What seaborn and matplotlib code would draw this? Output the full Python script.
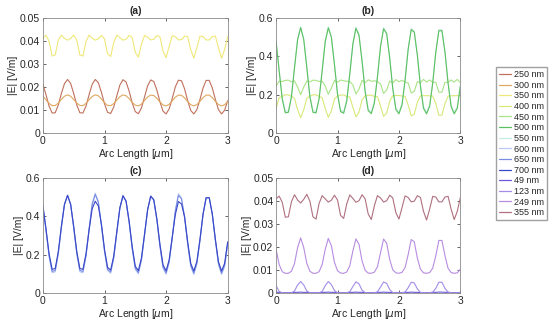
import numpy as np
import pandas as pd
import matplotlib
matplotlib.use("Agg")
import matplotlib.pyplot as plt
from matplotlib.lines import Line2D
import seaborn as sns

# arc length samples [um]
arc_um = np.linspace(0, 3, 61)

# (a) |E| values
e_250 = [0.0212, 0.0167, 0.0117, 0.0087, 0.0088, 0.0122, 0.0172, 0.0215,
         0.0233, 0.0216, 0.0172, 0.0122, 0.0088, 0.0087, 0.0117, 0.0167, 0.0212, 0.0233,
         0.0219, 0.0177, 0.0127, 0.0090, 0.0085, 0.0113, 0.0162, 0.0209, 0.0232,
         0.0222, 0.0182, 0.0131, 0.0093, 0.0084, 0.0109, 0.0157, 0.0205, 0.0231,
         0.0224, 0.0187, 0.0136, 0.0095, 0.0083, 0.0105, 0.0151, 0.0201, 0.0230,
         0.0227, 0.0192, 0.0141, 0.0098, 0.0083, 0.0102, 0.0146, 0.0196, 0.0229,
         0.0229, 0.0196, 0.0146, 0.0102, 0.0083, 0.0099, 0.0141]
e_300 = [0.0159, 0.0145, 0.0129, 0.0119, 0.0120, 0.0130, 0.0146, 0.0160,
         0.0166, 0.0160, 0.0146, 0.0130, 0.0120, 0.0119, 0.0129, 0.0145, 0.0159, 0.0166,
         0.0162, 0.0148, 0.0132, 0.0120, 0.0119, 0.0128, 0.0143, 0.0158, 0.0166,
         0.0162, 0.0150, 0.0133, 0.0121, 0.0118, 0.0126, 0.0142, 0.0157, 0.0165,
         0.0163, 0.0151, 0.0135, 0.0122, 0.0118, 0.0125, 0.0140, 0.0156, 0.0165,
         0.0164, 0.0153, 0.0137, 0.0123, 0.0118, 0.0124, 0.0138, 0.0154, 0.0165,
         0.0165, 0.0154, 0.0138, 0.0124, 0.0118, 0.0123, 0.0137]
e_350 = [0.0413, 0.0426, 0.0399, 0.0335, 0.0340, 0.0404, 0.0426, 0.0412,
         0.0404, 0.0412, 0.0426, 0.0404, 0.0340, 0.0335, 0.0399, 0.0426, 0.0413, 0.0404,
         0.0410, 0.0425, 0.0409, 0.0345, 0.0333, 0.0394, 0.0426, 0.0415, 0.0404,
         0.0409, 0.0425, 0.0415, 0.0351, 0.0330, 0.0386, 0.0425, 0.0417, 0.0405,
         0.0408, 0.0424, 0.0419, 0.0357, 0.0328, 0.0378, 0.0424, 0.0419, 0.0405,
         0.0407, 0.0422, 0.0420, 0.0363, 0.0326, 0.0371, 0.0422, 0.0420, 0.0405,
         0.0405, 0.0420, 0.0422, 0.0371, 0.0326, 0.0363, 0.0420]

# (b)
e_400 = [0.128, 0.184, 0.191, 0.200, 0.199, 0.192, 0.181, 0.121,
         0.080, 0.121, 0.181, 0.192, 0.199, 0.200, 0.191, 0.184, 0.128, 0.082,
         0.115, 0.178, 0.193, 0.198, 0.199, 0.190, 0.188, 0.134, 0.084,
         0.109, 0.174, 0.194, 0.197, 0.198, 0.191, 0.190, 0.141, 0.087,
         0.104, 0.167, 0.195, 0.196, 0.196, 0.193, 0.191, 0.147, 0.089,
         0.098, 0.161, 0.194, 0.195, 0.195, 0.194, 0.193, 0.154, 0.093,
         0.093, 0.154, 0.193, 0.194, 0.195, 0.195, 0.194]
e_450 = [0.245, 0.271, 0.269, 0.275, 0.276, 0.267, 0.272, 0.240,
         0.200, 0.240, 0.272, 0.267, 0.276, 0.275, 0.269, 0.271, 0.245, 0.202,
         0.235, 0.274, 0.265, 0.277, 0.273, 0.270, 0.269, 0.251, 0.204,
         0.229, 0.275, 0.263, 0.278, 0.270, 0.273, 0.268, 0.257, 0.207,
         0.224, 0.271, 0.262, 0.279, 0.268, 0.275, 0.266, 0.261, 0.209,
         0.218, 0.268, 0.263, 0.280, 0.266, 0.277, 0.265, 0.265, 0.213,
         0.213, 0.265, 0.265, 0.277, 0.266, 0.280, 0.263]
e_500 = [0.477, 0.324, 0.177, 0.105, 0.108, 0.189, 0.341, 0.487,
         0.550, 0.488, 0.341, 0.189, 0.108, 0.105, 0.177, 0.324, 0.477, 0.549,
         0.500, 0.357, 0.202, 0.112, 0.103, 0.166, 0.308, 0.464, 0.547,
         0.510, 0.373, 0.215, 0.117, 0.101, 0.156, 0.291, 0.450, 0.544,
         0.519, 0.390, 0.230, 0.123, 0.100, 0.146, 0.275, 0.436, 0.540,
         0.527, 0.405, 0.245, 0.129, 0.100, 0.139, 0.260, 0.421, 0.534,
         0.534, 0.421, 0.260, 0.137, 0.100, 0.129, 0.245]
e_550 = [0.482, 0.330, 0.184, 0.113, 0.116, 0.196, 0.347, 0.492,
         0.556, 0.493, 0.347, 0.196, 0.116, 0.113, 0.184, 0.330, 0.482, 0.555,
         0.505, 0.363, 0.209, 0.120, 0.111, 0.174, 0.314, 0.469, 0.553,
         0.515, 0.379, 0.222, 0.125, 0.109, 0.164, 0.297, 0.455, 0.550,
         0.524, 0.396, 0.237, 0.131, 0.108, 0.154, 0.281, 0.441, 0.546,
         0.532, 0.411, 0.252, 0.137, 0.108, 0.147, 0.266, 0.426, 0.540,
         0.540, 0.426, 0.266, 0.145, 0.108, 0.137, 0.252]

# (c)
e_600 = [0.452, 0.326, 0.190, 0.106, 0.111, 0.202, 0.340, 0.462,
         0.512, 0.462, 0.338, 0.202, 0.111, 0.106, 0.190, 0.334, 0.470, 0.522,
         0.478, 0.352, 0.214, 0.117, 0.103, 0.179, 0.313, 0.444, 0.510,
         0.480, 0.366, 0.227, 0.123, 0.100, 0.168, 0.299, 0.434, 0.507,
         0.487, 0.379, 0.240, 0.130, 0.098, 0.158, 0.285, 0.432, 0.520,
         0.496, 0.392, 0.253, 0.138, 0.097, 0.150, 0.272, 0.411, 0.499,
         0.499, 0.411, 0.272, 0.148, 0.097, 0.138, 0.253]
e_650 = [0.455, 0.332, 0.198, 0.113, 0.118, 0.210, 0.345, 0.463,
         0.510, 0.464, 0.345, 0.210, 0.118, 0.113, 0.198, 0.334, 0.462, 0.515,
         0.475, 0.358, 0.222, 0.124, 0.110, 0.187, 0.318, 0.445, 0.508,
         0.480, 0.372, 0.235, 0.130, 0.107, 0.176, 0.304, 0.435, 0.506,
         0.487, 0.385, 0.248, 0.137, 0.105, 0.166, 0.290, 0.428, 0.510,
         0.493, 0.398, 0.261, 0.145, 0.104, 0.158, 0.277, 0.412, 0.498,
         0.498, 0.412, 0.277, 0.155, 0.104, 0.145, 0.261]
e_700 = [0.456, 0.336, 0.206, 0.124, 0.128, 0.217, 0.348, 0.463,
         0.510, 0.464, 0.348, 0.217, 0.128, 0.124, 0.205, 0.330, 0.440, 0.480,
         0.455, 0.358, 0.229, 0.134, 0.120, 0.194, 0.322, 0.446, 0.508,
         0.480, 0.375, 0.242, 0.140, 0.117, 0.184, 0.308, 0.436, 0.506,
         0.487, 0.388, 0.255, 0.147, 0.116, 0.174, 0.294, 0.410, 0.478,
         0.465, 0.398, 0.268, 0.155, 0.115, 0.166, 0.281, 0.413, 0.498,
         0.498, 0.413, 0.281, 0.164, 0.115, 0.155, 0.268]

# (d)
e_49 = [0.0003, 0.0003, 0.0002, 0.0002, 0.0002, 0.0002, 0.0003, 0.0003,
        0.0004, 0.0003, 0.0003, 0.0002, 0.0002, 0.0002, 0.0002, 0.0003, 0.0003, 0.0004,
        0.0003, 0.0003, 0.0002, 0.0002, 0.0002, 0.0002, 0.0003, 0.0003, 0.0004,
        0.0003, 0.0003, 0.0002, 0.0002, 0.0002, 0.0002, 0.0003, 0.0003, 0.0004,
        0.0003, 0.0003, 0.0002, 0.0002, 0.0002, 0.0002, 0.0003, 0.0003, 0.0004,
        0.0003, 0.0003, 0.0002, 0.0002, 0.0002, 0.0002, 0.0003, 0.0003, 0.0004,
        0.0004, 0.0003, 0.0003, 0.0002, 0.0002, 0.0002, 0.0002]
e_123 = [0.0032, 0.0007, 0.0001, 0.0001, 0.0001, 0.0001, 0.0009, 0.0035,
         0.0050, 0.0035, 0.0009, 0.0001, 0.0001, 0.0001, 0.0001, 0.0007, 0.0032, 0.0050,
         0.0037, 0.0011, 0.0001, 0.0001, 0.0001, 0.0001, 0.0006, 0.0028, 0.0049,
         0.0040, 0.0012, 0.0002, 0.0001, 0.0001, 0.0001, 0.0005, 0.0026, 0.0048,
         0.0042, 0.0015, 0.0002, 0.0001, 0.0001, 0.0001, 0.0004, 0.0023, 0.0047,
         0.0044, 0.0018, 0.0003, 0.0001, 0.0001, 0.0001, 0.0004, 0.0020, 0.0047,
         0.0047, 0.0020, 0.0004, 0.0001, 0.0001, 0.0001, 0.0003]
e_249 = [0.0190, 0.0124, 0.0093, 0.0086, 0.0086, 0.0095, 0.0129, 0.0198,
         0.0240, 0.0198, 0.0129, 0.0095, 0.0086, 0.0086, 0.0093, 0.0124, 0.0190, 0.0238,
         0.0206, 0.0134, 0.0097, 0.0087, 0.0086, 0.0092, 0.0119, 0.0183, 0.0236,
         0.0212, 0.0139, 0.0099, 0.0087, 0.0086, 0.0091, 0.0114, 0.0175, 0.0235,
         0.0217, 0.0146, 0.0101, 0.0088, 0.0086, 0.0090, 0.0111, 0.0167, 0.0233,
         0.0223, 0.0152, 0.0104, 0.0088, 0.0086, 0.0089, 0.0108, 0.0162, 0.0229,
         0.0229, 0.0162, 0.0108, 0.0089, 0.0086, 0.0088, 0.0104]
e_355 = [0.0410, 0.0422, 0.0395, 0.0330, 0.0332, 0.0398, 0.0428, 0.0405,
         0.0392, 0.0408, 0.0430, 0.0400, 0.0332, 0.0322, 0.0390, 0.0424, 0.0410, 0.0396,
         0.0404, 0.0426, 0.0405, 0.0338, 0.0325, 0.0388, 0.0427, 0.0412, 0.0395,
         0.0402, 0.0428, 0.0410, 0.0344, 0.0320, 0.0380, 0.0424, 0.0414, 0.0396,
         0.0402, 0.0426, 0.0414, 0.0350, 0.0322, 0.0372, 0.0423, 0.0416, 0.0397,
         0.0400, 0.0424, 0.0416, 0.0356, 0.0318, 0.0365, 0.0421, 0.0418, 0.0397,
         0.0397, 0.0418, 0.0421, 0.0365, 0.0320, 0.0356, 0.0416]

legend_labels = ["250 nm", "300 nm", "350 nm", "400 nm", "450 nm", "500 nm", "550 nm",
                 "600 nm", "650 nm", "700 nm", "49 nm", "123 nm", "249 nm", "355 nm"]
line_colors = ["#c0705c", "#e0a860", "#f0e878", "#d8e878", "#a8e488", "#5cc060", "#c4ece4",
               "#b8c8f4", "#7a8ce4", "#3848c8", "#6a58d8", "#a48ce8", "#b88ce0", "#b07080"]

panels = [
    ("(a)", [("250 nm", e_250), ("300 nm", e_300), ("350 nm", e_350)], [0, 0.05], [0, 0.01, 0.02, 0.03, 0.04, 0.05]),
    ("(b)", [("550 nm", e_550), ("400 nm", e_400), ("450 nm", e_450), ("500 nm", e_500)], [0, 0.6], [0, 0.2, 0.4, 0.6]),
    ("(c)", [("600 nm", e_600), ("650 nm", e_650), ("700 nm", e_700)], [0, 0.6], [0, 0.2, 0.4, 0.6]),
    ("(d)", [("49 nm", e_49), ("123 nm", e_123), ("249 nm", e_249), ("355 nm", e_355)], [0, 0.05], [0, 0.01, 0.02, 0.03, 0.04, 0.05]),
]

sns.set_theme(style="white")
plt.rcParams['font.family'] = ['Liberation Sans', 'DejaVu Sans']
palette = dict(zip(legend_labels, line_colors))

fig = plt.figure(figsize=(5.5, 3.3), dpi=100)
positions = [[0.078, 0.597, 0.336, 0.348], [0.502, 0.597, 0.335, 0.348],
             [0.078, 0.112, 0.336, 0.348], [0.502, 0.112, 0.335, 0.348]]

for (title, curves, ylim, yticks), pos in zip(panels, positions):
    ax = fig.add_axes(pos)
    frames = []
    for name, vals in curves:
        frames.append(pd.DataFrame({"x": arc_um, "E": vals, "wl": name}))
    df = pd.concat(frames, ignore_index=True)
    sns.lineplot(data=df, x="x", y="E", hue="wl", palette=palette, ax=ax,
                 legend=False, linewidth=0.8, estimator=None, sort=False)
    ax.set_xlim(0, 3)
    ax.set_ylim(*ylim)
    ax.set_xticks([0, 1, 2, 3])
    ax.set_yticks(yticks)
    ax.set_yticklabels([f"{t:g}" for t in yticks])
    ax.set_xlabel(r"Arc Length [$\mu$m]", fontsize=7.5, labelpad=1)
    ax.set_ylabel("|E| [V/m]", fontsize=7.5, labelpad=1)
    ax.set_title(title, fontsize=7.5, fontweight="bold", pad=3)
    ax.tick_params(direction="in", length=2.5, width=0.5, labelsize=7.5, pad=2,
                   top=True, right=True, bottom=True, left=True, colors="#262626")
    for s in ax.spines.values():
        s.set_color("#8a8a8a")
        s.set_linewidth(0.6)

handles = [Line2D([0], [0], color=c, lw=0.9) for c in line_colors]
fig.legend(handles, legend_labels, loc="upper left", bbox_to_anchor=(0.902, 0.797),
           fontsize=6.5, frameon=True, fancybox=False, edgecolor="#8a8a8a",
           handlelength=1.3, handletextpad=0.3, labelspacing=0.18, borderpad=0.35,
           borderaxespad=0)

fig.savefig("out.png", dpi=100, facecolor="white")
